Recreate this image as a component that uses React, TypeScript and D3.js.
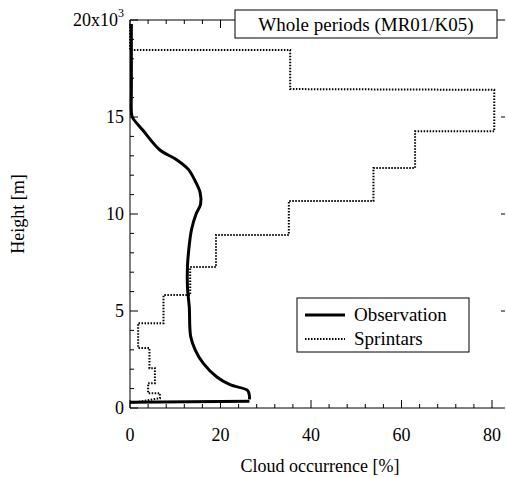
import React from "react";
import * as d3 from "d3";

const spH = [0.25, 0.5, 0.76, 0.76, 1.27, 1.27, 2.05, 2.05, 3.09, 3.09, 4.37, 4.37, 5.82, 5.82, 7.27, 7.27, 8.92, 8.92, 10.67, 10.67, 12.37, 12.37, 14.26, 14.26, 16.4, 16.44, 18.45, 18.45, 19.8];
const spV = [0, 6.6, 6.6, 4.0, 4.0, 5.5, 5.5, 4.3, 4.3, 1.8, 1.8, 7.4, 7.4, 13.3, 13.3, 19, 19, 35.1, 35.1, 53.8, 53.8, 63, 63, 80.5, 80.5, 35.4, 35.4, 0, 0];
const obLowH = [0.3, 0.35];
const obLowV = [0, 26.4];
const obH = [0.45, 0.6, 0.9, 1.2, 1.6, 2.3, 3.0, 3.7, 5.2, 6.2, 7.3, 8.4, 9.2, 10.0, 10.5, 11.1, 11.7, 12.3, 12.8, 13.3, 14.3, 15.0, 15.3, 16.5, 19.8];
const obV = [26.4, 26.4, 26.0, 22.1, 19.2, 16.2, 14.4, 13.4, 13.1, 12.7, 12.7, 13.1, 13.6, 14.6, 15.6, 15.5, 14.4, 12.9, 10.3, 6.6, 2.9, 0.5, 0.3, 0.3, 0.3];
const xTicks = [0, 20, 40, 60, 80];
const yTicks = [0, 5, 10, 15];

export default function App() {
  const L = 130, R = 505, T = 20, B = 408;
  const x = d3.scaleLinear().domain([0, 80]).range([L, 492]);
  const y = d3.scaleLinear().domain([0, 20]).range([B, T]);
  const line = d3.line<[number, number]>().x(d => x(d[0])).y(d => y(d[1]));
  const sp = line(spV.map((v, i) => [v, spH[i]] as [number, number]))!;
  const obLow = line(obLowV.map((v, i) => [v, obLowH[i]] as [number, number]))!;
  const ob = line.curve(d3.curveCatmullRom)(obV.map((v, i) => [v, obH[i]] as [number, number]))!;
  const xMinor = d3.range(0, 84, 4);
  const yMinor = d3.range(0, 21, 1);
  const font = "Times New Roman, Liberation Serif, DejaVu Serif, serif";
  return (
    <svg width={506} height={477} style={{ position: "absolute", left: 0, top: 0 }}>
      <rect width={506} height={477} fill="#fff" />
      <line x1={L} x2={L} y1={T} y2={B} stroke="#000" />
      <line x1={L} x2={R} y1={B} y2={B} stroke="#000" />
      <line x1={L} x2={R} y1={T} y2={T} stroke="#000" />
      {xMinor.map(v => (
        <g key={"xm" + v}>
          <line x1={x(v)} x2={x(v)} y1={B} y2={B - (v % 20 === 0 ? 8 : 4)} stroke="#000" />
          <line x1={x(v)} x2={x(v)} y1={T} y2={T + (v % 20 === 0 ? 8 : 4)} stroke="#000" />
        </g>
      ))}
      {yMinor.map(v => (
        <g key={"ym" + v}>
          <line x1={L} x2={L + (v % 5 === 0 ? 8 : 4)} y1={y(v)} y2={y(v)} stroke="#000" />
          {v % 5 === 0 && v > 0 && v < 20 ? <line x1={R - 4} x2={R} y1={y(v)} y2={y(v)} stroke="#000" /> : null}
        </g>
      ))}
      <g fontFamily={font}>
        {xTicks.map(v => (
          <text key={"xt" + v} x={x(v)} y={441} fontSize={18} textAnchor="middle">{v}</text>
        ))}
        {yTicks.map(v => (
          <text key={"yt" + v} x={L - 6} y={y(v) + 6} fontSize={18} textAnchor="end">{v}</text>
        ))}
        <text x={L - 6} y={y(20) + 6} fontSize={18} textAnchor="end">20x10<tspan fontSize={12} dy={-9}>3</tspan></text>
        <text x={320} y={472} fontSize={18} textAnchor="middle">Cloud occurrence [%]</text>
        <text transform="translate(24,214) rotate(-90)" fontSize={18} textAnchor="middle">Height [m]</text>
      </g>
      <path d={sp} fill="none" stroke="#000" strokeWidth={2} strokeDasharray="1.5,1.5" />
      <path d={obLow} fill="none" stroke="#000" strokeWidth={3} />
      <path d={ob} fill="none" stroke="#000" strokeWidth={3} strokeLinejoin="round" />
      <g fontFamily={font}>
        <rect x={235} y={10} width={262} height={28} fill="#fff" stroke="#000" />
        <text x={366} y={31} fontSize={19} textAnchor="middle">Whole periods (MR01/K05)</text>
        <rect x={297} y={298} width={172} height={54} fill="#fff" stroke="#000" />
        <line x1={305} x2={345} y1={315} y2={315} stroke="#000" strokeWidth={3} />
        <line x1={305} x2={345} y1={339} y2={339} stroke="#000" strokeWidth={2} strokeDasharray="1.5,1.5" />
        <text x={354} y={321} fontSize={19}>Observation</text>
        <text x={354} y={345} fontSize={19}>Sprintars</text>
      </g>
    </svg>
  );
}
